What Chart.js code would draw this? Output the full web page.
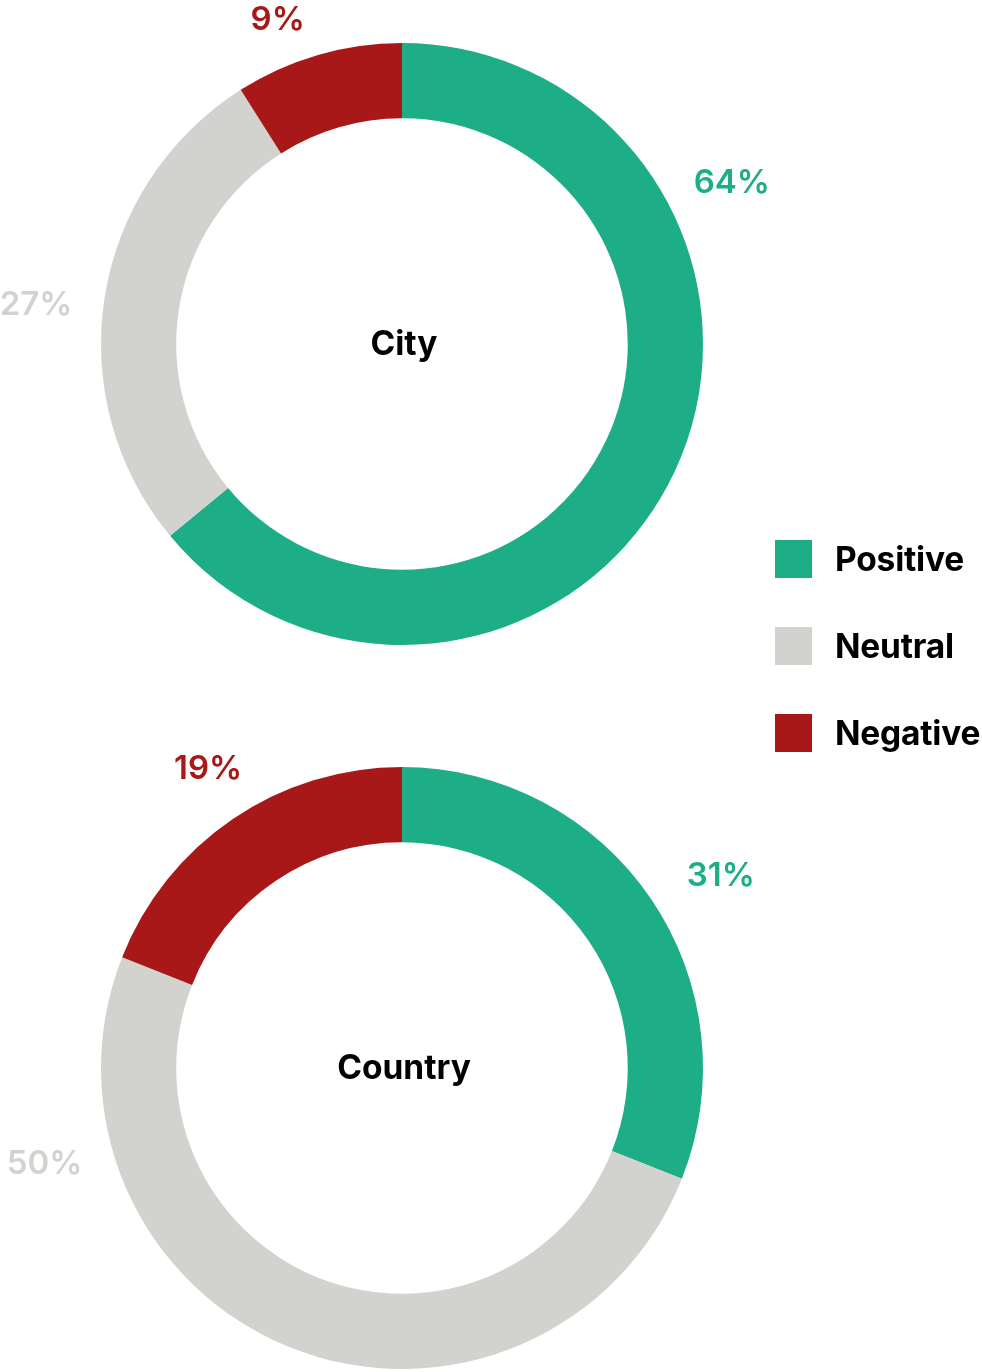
<!DOCTYPE html>
<html>
<head>
<meta charset="utf-8">
<script src="https://cdn.jsdelivr.net/npm/chart.js@4/dist/chart.umd.min.js"></script>
<style>
    html, body { margin: 0; padding: 0; background: #fff; overflow: hidden; }
    body { width: 982px; height: 1372px; position: relative; font-family: Inter, "Noto Sans", sans-serif; }
    .chart-box { position: absolute; left: 0; width: 804px; height: 688px; }
    #city-box { top: 0; }
    #country-box { top: 724px; }
    #legend { position: absolute; left: 775px; top: 540px; }
    .legend-item { display: flex; align-items: center; height: 38px; margin-bottom: 49px; }
    .legend-swatch { width: 37px; height: 38px; margin-right: 23px; }
    .legend-label { font-size: 33.5px; font-weight: 700; color: #000; letter-spacing: -0.2px; }
</style>
</head>
<body>
<div class="chart-box" id="city-box"><canvas id="city-chart"></canvas></div>
<div class="chart-box" id="country-box"><canvas id="country-chart"></canvas></div>
<div id="legend"></div>

<script>
// --- Data ---
const categories = ['Positive', 'Neutral', 'Negative'];
const cityValues = [64, 27, 9];
const countryValues = [31, 50, 19];
const chartTitles = ['City', 'Country'];
const sliceColors = ['#1eae87', '#d2d2ce', '#a91818'];

// label placement (angle in degrees clockwise from top, distance from centre)
const cityLabelAngles = [64, 276, 339];
const cityLabelDist = [367, 368, 347];
const countryLabelAngles = [59, 255, 327];
const countryLabelDist = [372, 370, 356];

// Draws the title in the hole and the percentage labels round the ring
const ringLabels = {
    id: 'ringLabels',
    afterDraw(chart, args, opts) {
        const ctx = chart.ctx;
        const arc = chart.getDatasetMeta(0).data[0];
        const cx = arc.x, cy = arc.y;
        ctx.save();
        ctx.textAlign = 'center';
        ctx.textBaseline = 'middle';
        ctx.fillStyle = '#000';
        ctx.font = '700 33.5px Inter, "Noto Sans", sans-serif';
        ctx.fillText(opts.title, cx + 2, cy + 1);

        ctx.font = '600 33px Inter, "Noto Sans", sans-serif';
        const values = chart.data.datasets[0].data;
        values.forEach((v, i) => {
            const a = opts.angles[i] * Math.PI / 180;
            const x = cx + opts.dist[i] * Math.sin(a);
            const y = cy - opts.dist[i] * Math.cos(a);
            ctx.fillStyle = sliceColors[i];
            ctx.fillText(v + '%', x, y);
        });
        ctx.restore();
    }
};

function makeDoughnut(canvasId, values, title, angles, dist, padY) {
    const box = document.getElementById(canvasId).parentNode;
    const padX = (box.clientWidth - 602) / 2;
    return new Chart(document.getElementById(canvasId), {
        type: 'doughnut',
        data: {
            labels: categories,
            datasets: [{
                data: values,
                backgroundColor: sliceColors,
                borderWidth: 0,
                hoverOffset: 0
            }]
        },
        options: {
            responsive: true,
            maintainAspectRatio: false,
            animation: false,
            cutout: '75%',
            layout: { padding: { left: padX, right: padX, top: padY, bottom: padY } },
            plugins: {
                legend: { display: false },
                tooltip: { enabled: false },
                ringLabels: { title: title, angles: angles, dist: dist }
            }
        },
        plugins: [ringLabels]
    });
}

// --- Legend ---
const legendEl = document.getElementById('legend');
categories.forEach((name, i) => {
    const item = document.createElement('div');
    item.className = 'legend-item';
    const sw = document.createElement('div');
    sw.className = 'legend-swatch';
    sw.style.backgroundColor = sliceColors[i];
    const lab = document.createElement('div');
    lab.className = 'legend-label';
    lab.textContent = name;
    item.appendChild(sw);
    item.appendChild(lab);
    legendEl.appendChild(item);
});

makeDoughnut('city-chart', cityValues, chartTitles[0], cityLabelAngles, cityLabelDist, 43);
makeDoughnut('country-chart', countryValues, chartTitles[1], countryLabelAngles, countryLabelDist, 43);
</script>
</body>
</html>
